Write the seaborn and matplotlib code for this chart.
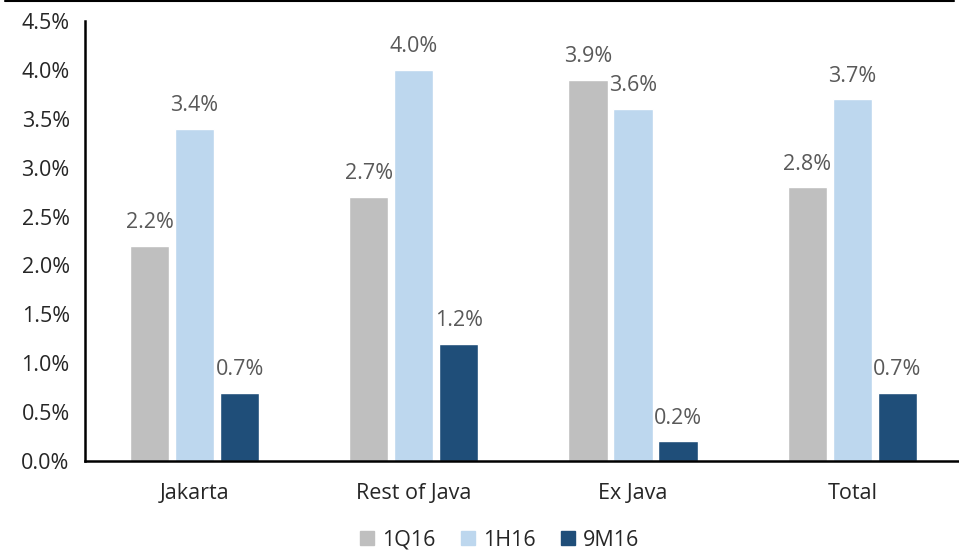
import matplotlib
matplotlib.use("Agg")
import matplotlib.pyplot as plt
from matplotlib.lines import Line2D
from matplotlib.ticker import FuncFormatter, FixedLocator
import seaborn as sns
import pandas as pd

regions = ["Jakarta", "Rest of Java", "Ex Java", "Total"]
periods = ["1Q16", "1H16", "9M16"]
q1_16 = [2.2, 2.7, 3.9, 2.8]
h1_16 = [3.4, 4.0, 3.6, 3.7]
m9_16 = [0.7, 1.2, 0.2, 0.7]
colors = ["#BFBFBF", "#BDD7EE", "#1F4E79"]

df = pd.DataFrame({
    "region": regions * 3,
    "period": [p for p in periods for _ in regions],
    "value": q1_16 + h1_16 + m9_16,
})

sns.set_style("white")
plt.rcParams["font.family"] = ["Open Sans", "DejaVu Sans"]
FS = 15.5

fig = plt.figure(figsize=(9.59, 5.58), dpi=100)
ax = fig.add_axes([0.0886, 0.1738, 0.9144, 0.7886])

sns.barplot(data=df, x="region", y="value", hue="period", order=regions,
            hue_order=periods, palette=colors, width=0.616, gap=0.13,
            saturation=1, legend=False, ax=ax)

for container in ax.containers:
    for bar in container:
        h = bar.get_height()
        ax.annotate(f"{h:.1f}%", (bar.get_x() + bar.get_width() / 2, h),
                    xytext=(0, 9), textcoords="offset points",
                    ha="center", va="bottom", fontsize=FS, color="#595959")

ax.set_ylim(0, 4.5)
ax.set_xlim(-0.5, 3.5)
ax.set_yticks([i * 0.5 for i in range(10)])
ax.yaxis.set_major_formatter(FuncFormatter(lambda v, _: f"{v:.1f}%"))
ax.set_xlabel("")
ax.set_ylabel("")

ax.xaxis.set_minor_locator(FixedLocator([-0.5, 0.5, 1.5, 2.5]))
ax.tick_params(axis="x", which="major", length=0, pad=16, labelsize=FS,
               labelcolor="#262626")
ax.tick_params(axis="x", which="minor", length=7, width=1.8, direction="out",
               color="black")
ax.tick_params(axis="y", length=6, width=1.5, direction="out", color="black",
               labelsize=FS, labelcolor="#262626", pad=5)

for side in ["top", "right"]:
    ax.spines[side].set_visible(False)
for side in ["left", "bottom"]:
    ax.spines[side].set_color("black")
    ax.spines[side].set_linewidth(1.8)

handles = [Line2D([], [], marker="s", linestyle="", markersize=10,
                  markerfacecolor=c, markeredgecolor=c) for c in colors]
fig.legend(handles, periods, loc="lower center", bbox_to_anchor=(0.52, -0.022),
           ncol=3, frameon=False, fontsize=FS, handletextpad=0.3,
           columnspacing=1.1, handlelength=0.8, labelcolor="#262626")

fig.add_artist(Line2D([0.005, 0.995], [0.998, 0.998], color="black", lw=1.5,
                      transform=fig.transFigure))

fig.savefig("out.png", dpi=100)
